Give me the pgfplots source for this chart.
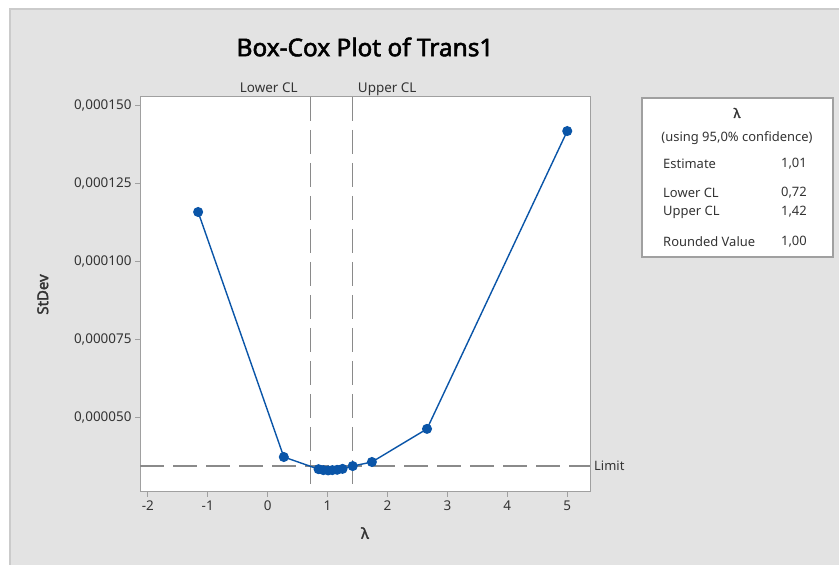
\documentclass[border=0pt]{standalone}
\usepackage{pgfplots}
\pgfplotsset{compat=1.18}
\usepackage{fontspec}
\setmainfont{Noto Sans}[AutoFakeBold=2.2]

\definecolor{bcblue}{HTML}{0A55A8}
\definecolor{panel}{HTML}{E3E3E3}
\definecolor{edge}{HTML}{CBCBCB}
\definecolor{frame}{HTML}{A0A0A0}
\definecolor{refline}{HTML}{8A8A8A}
\definecolor{txt}{HTML}{333333}

% lambda vs. standard deviation (stdev in units of 1e-6)
\pgfplotstableread{
lambda stdev
-1.16 115.8
0.27  37.4
0.85  33.5
0.93  33.2
1.01  33.1
1.08  33.2
1.16  33.3
1.25  33.6
1.42  34.5
1.74  35.8
2.66  46.4
5.00  141.7
}\boxcox

\begin{document}
\begin{tikzpicture}[x=1bp,y=1bp]
\path[use as bounding box] (0,0) rectangle (839,565);
\fill[panel] (9,0) rectangle (839,557);
\draw[edge, line width=2bp] (10,0) -- (10,556) -- (839,556);

\node[font=\bfseries\fontsize{24.5}{28}\selectfont] at (365,518) {Box-Cox Plot of Trans1};

\begin{axis}[
  at={(140bp,73bp)}, anchor=south west,
  scale only axis, width=450bp, height=395bp,
  xmin=-2.13, xmax=5.38, ymin=26.2, ymax=152.6,
  axis background/.style={fill=white},
  axis line style={frame, line width=1bp},
  tick style={frame, line width=1bp},
  major tick length=5bp,
  tick align=outside, xtick pos=bottom, ytick pos=left,
  xtick={-2,...,5}, xticklabels={-2,-1,0,1,2,3,4,5},
  ytick={50,75,100,125,150},
  yticklabels={{0,000050},{0,000075},{0,000100},{0,000125},{0,000150}},
  ticklabel style={font=\fontsize{13.5}{15}\selectfont, text=txt},
  xlabel={λ}, ylabel={StDev},
  label style={font=\bfseries\fontsize{15}{17}\selectfont, text=txt},
  xlabel style={at={(axis description cs:0.5,-0.104)}, anchor=center},
  ylabel style={at={(axis description cs:-0.216,0.5)}, anchor=center},
  clip=false,
]
\addplot[refline, line width=1.2bp, dash pattern=on 24bp off 9bp]
  coordinates {(0.72,152.6) (0.72,26.2)};
\addplot[refline, line width=1.2bp, dash pattern=on 24bp off 9bp]
  coordinates {(1.42,152.6) (1.42,26.2)};
\addplot[refline, line width=1.2bp, dash pattern=on 24bp off 9bp]
  coordinates {(-2.13,34.5) (5.38,34.5)};
\addplot[bcblue, line width=1.4bp, mark=*, mark size=4.3bp,
  mark options={fill=bcblue, draw=bcblue}]
  table[x=lambda, y=stdev] {\boxcox};

\node[anchor=base east, inner sep=0, text=txt, font=\fontsize{13.5}{15}\selectfont]
  at ([xshift=-13bp, yshift=4bp]axis cs:0.72,152.6) {Lower CL};
\node[anchor=base west, inner sep=0, text=txt, font=\fontsize{13.5}{15}\selectfont]
  at ([xshift=5bp, yshift=4bp]axis cs:1.42,152.6) {Upper CL};
\node[anchor=west, inner sep=0, text=txt, font=\fontsize{13}{15}\selectfont]
  at ([xshift=4bp]axis cs:5.38,34.5) {Limit};
\end{axis}

% lambda summary box
\draw[frame, fill=white, line width=1.2bp] (642,308) rectangle (833,467);
\begin{scope}[every node/.style={inner sep=0, text=txt, font=\fontsize{13}{15}\selectfont}]
\node[font=\bfseries\fontsize{13}{15}\selectfont] at (737,452) {λ};
\node at (737,427) {(using 95,0\% confidence)};
\node[anchor=west] at (663,401) {Estimate};
\node[anchor=east] at (807,401) {1,01};
\node[anchor=west] at (663,372) {Lower CL};
\node[anchor=east] at (807,372) {0,72};
\node[anchor=west] at (663,353) {Upper CL};
\node[anchor=east] at (807,353) {1,42};
\node[anchor=west] at (663,323) {Rounded Value};
\node[anchor=east] at (807,323) {1,00};
\end{scope}
\end{tikzpicture}
\end{document}
